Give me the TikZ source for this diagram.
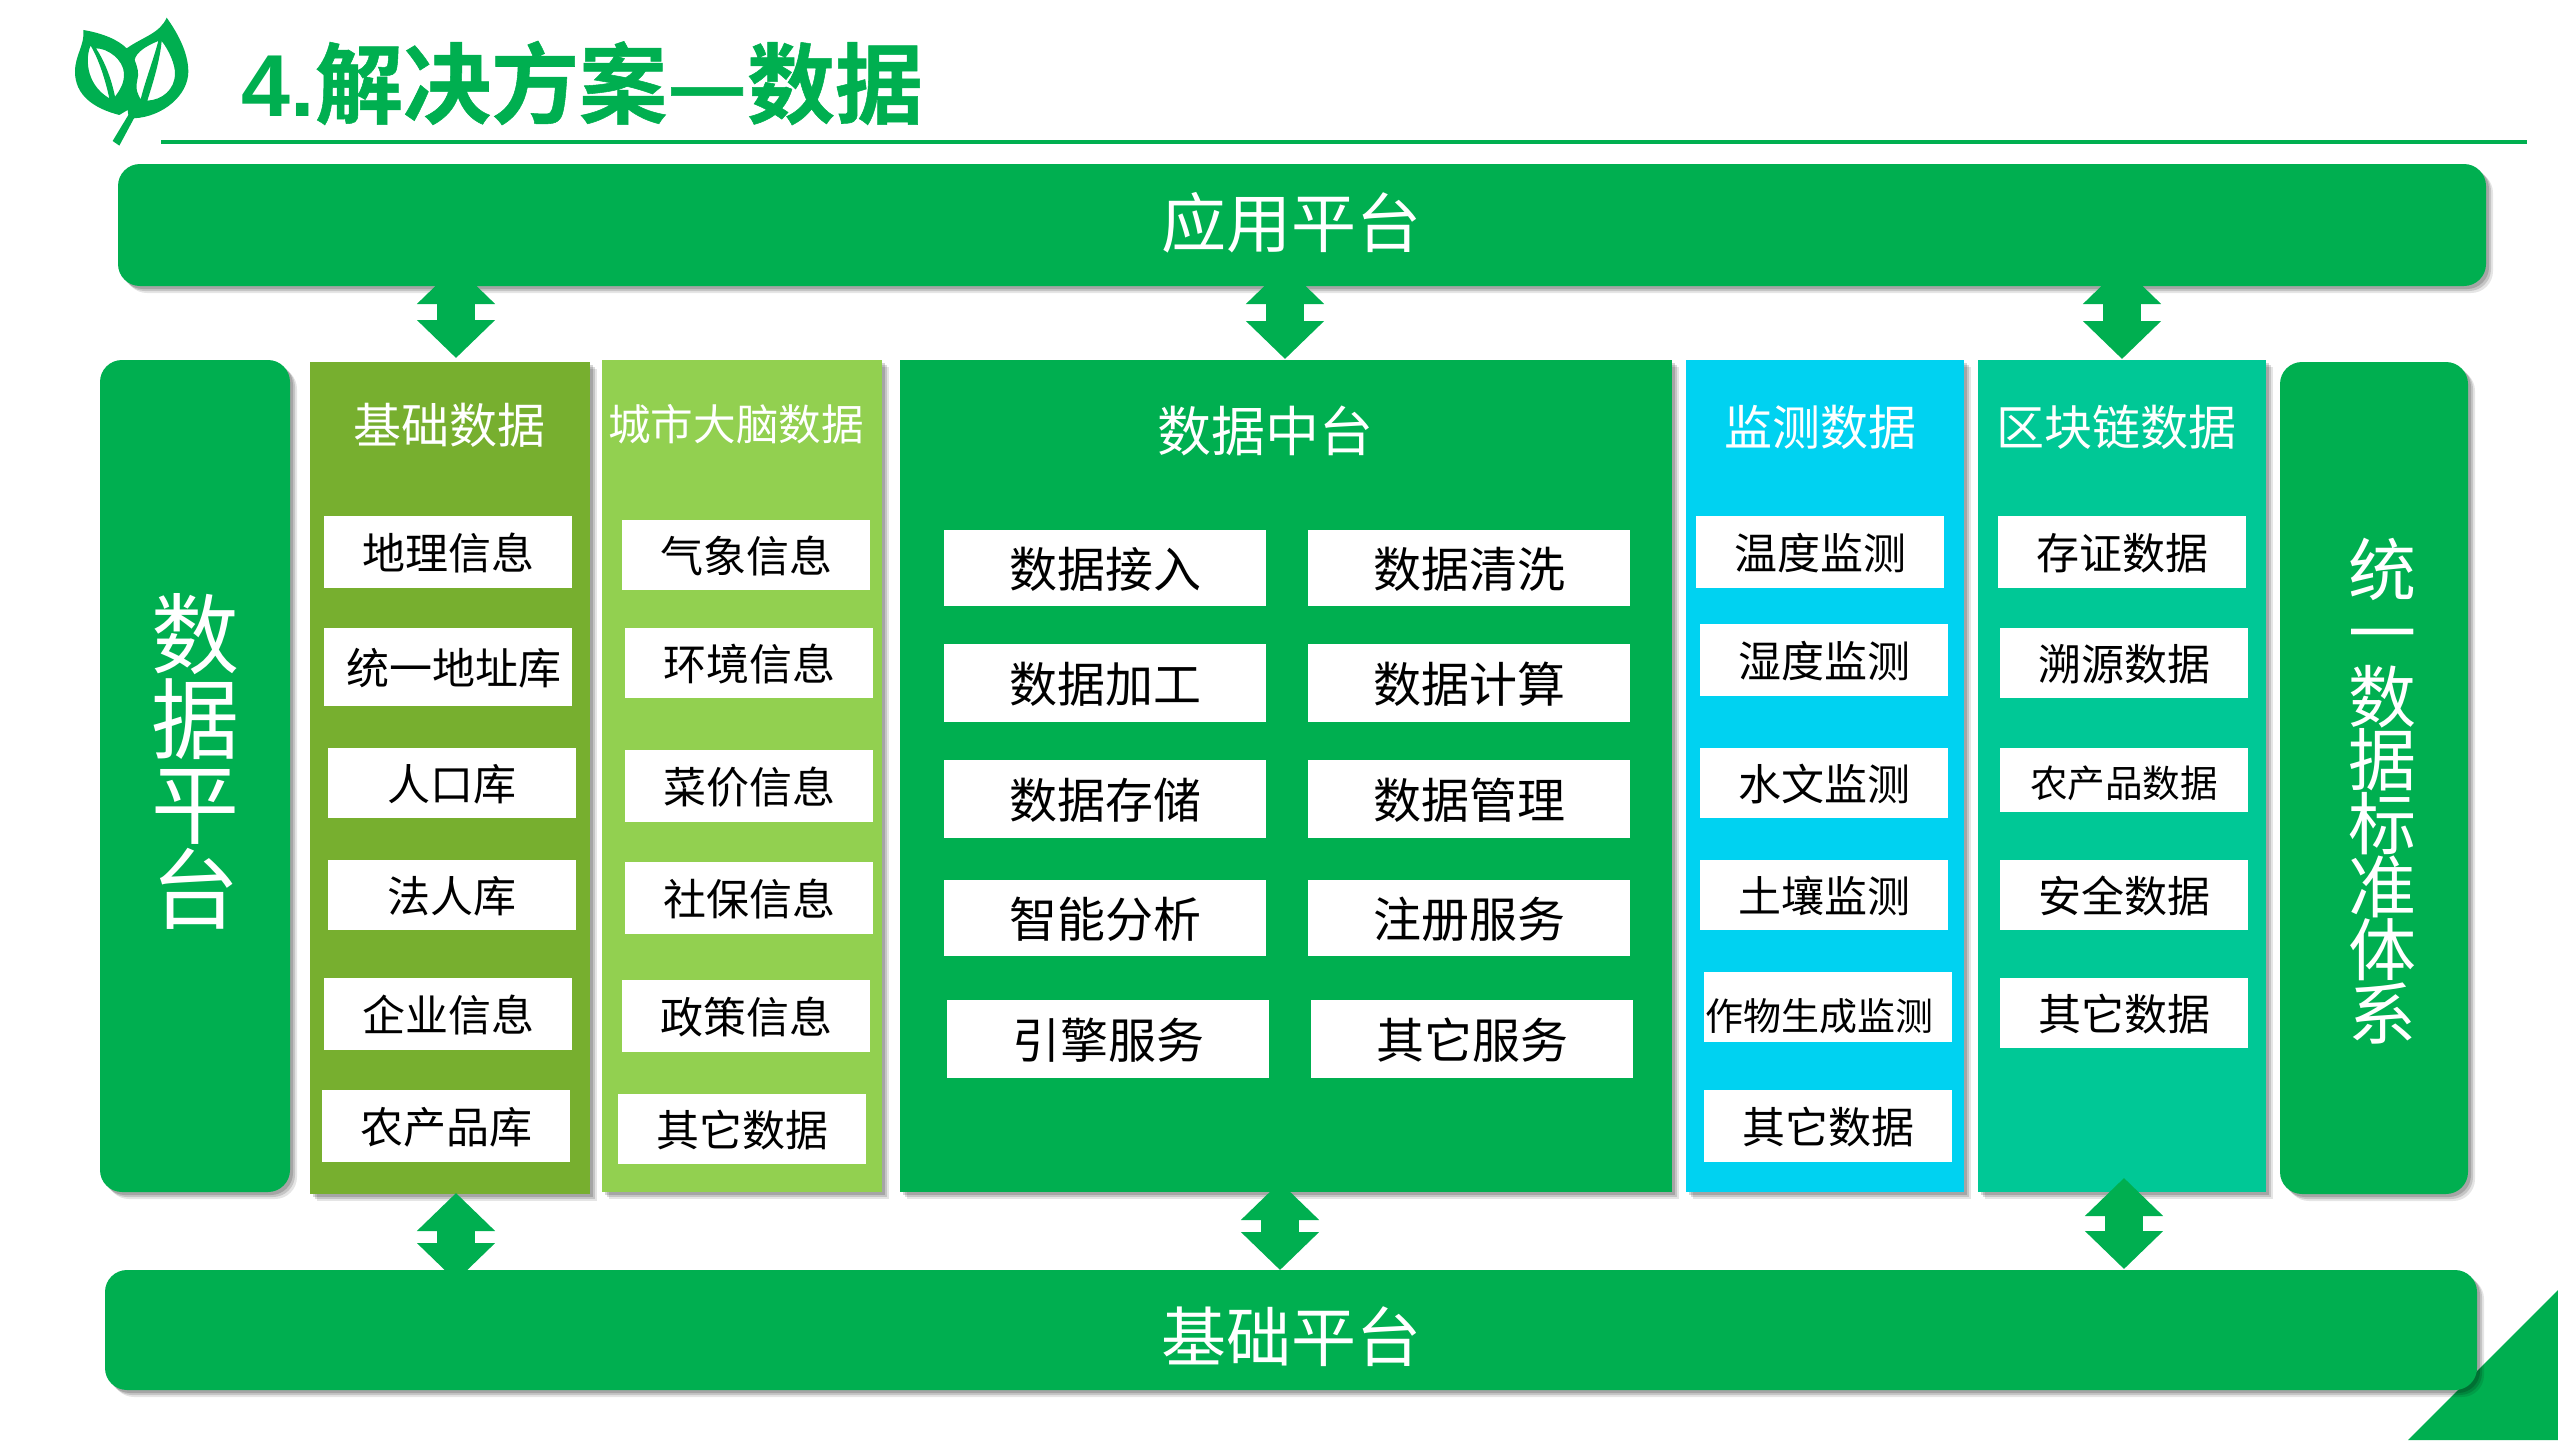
\documentclass[tikz,border=0pt]{standalone}
\usepackage{fontspec}
\setmainfont{Noto Sans CJK SC}
\newfontfamily\titlecjk[FakeBold=0.6]{Noto Sans CJK SC Bold}
\newfontfamily\titlelatin{Liberation Sans Bold}
\usepackage{tikz}
\usetikzlibrary{arrows.meta}
\usetikzlibrary{shadows}
\definecolor{bargreen}{RGB}{0,175,80}
\definecolor{olivegreen}{RGB}{119,175,47}
\definecolor{limegreen}{RGB}{146,208,80}
\definecolor{skycyan}{RGB}{0,210,241}
\definecolor{seagreen}{RGB}{0,200,150}
\tikzset{every picture/.style={line width=0.75pt}}
\tikzset{softshadow/.style={
  drop shadow={shadow xshift=1.5pt,shadow yshift=-1.5pt,fill=black,opacity=0.16},
  drop shadow={shadow xshift=2.5pt,shadow yshift=-2.5pt,fill=black,opacity=0.14},
  drop shadow={shadow xshift=3.5pt,shadow yshift=-3.5pt,fill=black,opacity=0.10}}}
\tikzset{platbar/.style={fill=bargreen,rounded corners=11pt,softshadow,inner sep=0pt}}
\tikzset{bartext/.style={text=white,inner sep=0pt,align=center,font=\fontsize{32.5}{32.5}\selectfont}}
\tikzset{datacol/.style={softshadow,inner sep=0pt}}
\tikzset{colhead/.style={text=white,inner sep=0pt,font=\fontsize{24}{24}\selectfont}}
\tikzset{cellbox/.style={fill=white,text=black,inner sep=0pt,minimum width=124pt,text height=20pt,text depth=2.1pt,font=\fontsize{21.5}{21.5}\selectfont}}
\tikzset{midbox/.style={fill=white,text=black,inner sep=0pt,minimum width=161pt,text height=22pt,text depth=2.76pt,font=\fontsize{24}{24}\selectfont}}
\tikzset{updown/.style={draw=bargreen,line width=19pt,{Triangle[width=38pt,length=19pt,fill=bargreen]}-{Triangle[width=38pt,length=19pt,fill=bargreen]}}}

\begin{document}
\begin{tikzpicture}[x=0.5pt,y=0.5pt,yscale=-1]
\useasboundingbox (0,0) rectangle (2558,1440);

%corner triangle
\fill [bargreen] (2408,1440) -- (2558,1290) -- (2558,1440) -- cycle ;

%leaf mark
\begin{scope}[shift={(60,5)},scale=0.3333]
\fill [bargreen,even odd rule] (70,75) .. controls (130,85) and (175,105) .. (200,130)
  .. controls (250,95) and (300,85) .. (320,38)
  .. controls (350,80) and (385,140) .. (385,200)
  .. controls (385,270) and (310,335) .. (222,340)
  -- (178,422) -- (158,408) -- (205,330) -- (203,315) -- (178,330)
  .. controls (100,310) and (45,270) .. (45,200)
  .. controls (45,150) and (75,120) .. (70,75) -- cycle
  (92,122) .. controls (78,150) and (72,235) .. (148,280) .. controls (135,220) and (115,160) .. (92,122) -- cycle
  (108,130) .. controls (145,130) and (190,165) .. (192,205) .. controls (193,235) and (180,255) .. (165,275) .. controls (155,225) and (135,170) .. (108,130) -- cycle
  (295,108) .. controls (265,120) and (228,140) .. (224,165) .. controls (232,185) and (238,205) .. (232,225) .. controls (225,255) and (235,270) .. (242,283) .. controls (255,230) and (280,165) .. (295,108) -- cycle
  (305,108) .. controls (330,140) and (345,180) .. (345,205) .. controls (345,255) and (305,285) .. (262,287) .. controls (280,230) and (300,165) .. (305,108) -- cycle ;
\end{scope}

% Title
\node [anchor=west,inner sep=0pt,text=bargreen,font=\fontsize{44}{44}\selectfont] (title) at (241,83) {{\titlelatin 4.}{\titlecjk 解决方案—数据}};
\coordinate (ruleL) at (161,142);
\coordinate (ruleR) at (2527,142);
\draw [bargreen,line width=2pt] (ruleL) -- (ruleR) ;

%Platform bars
\node [platbar,minimum width=1184pt,minimum height=61pt] (appbar) at (1302,225) {};
\node [platbar,minimum width=1186pt,minimum height=60pt] (basebar) at (1291,1330) {};
\node [platbar,minimum width=95pt,minimum height=416pt] (dataplat) at (195,776) {};
\node [platbar,minimum width=94pt,minimum height=416pt] (stdplat) at (2374,778) {};
\node [bartext] (apptxt) at (1291,223) {应用平台};
\node [bartext] (basetxt) at (1291,1337) {基础平台};
\node [bartext,font=\fontsize{44}{42.5}\selectfont] (dataplattxt) at (195,761) {数\\据\\平\\台};
\node [bartext,font=\fontsize{34}{31.7}\selectfont] (stdplattxt) at (2382,791) {统\\一\\数\\据\\标\\准\\体\\系};

%Data columns
\node [datacol,fill=olivegreen,minimum width=140pt,minimum height=416pt] (basecol) at (450,778) {};
\node [datacol,fill=limegreen,minimum width=140pt,minimum height=416pt] (citycol) at (742,776) {};
\node [datacol,fill=bargreen,minimum width=386pt,minimum height=416pt] (midcol) at (1286,776) {};
\node [datacol,fill=skycyan,minimum width=139pt,minimum height=416pt] (moncol) at (1825,776) {};
\node [datacol,fill=seagreen,minimum width=144pt,minimum height=416pt] (chaincol) at (2122,776) {};

% Column titles
\node [colhead] (basehd) at (449,425) {基础数据};
\node [colhead,font=\fontsize{21.3}{21.3}\selectfont] (cityhd) at (736,424) {城市大脑数据};
\node [colhead,font=\fontsize{27}{27}\selectfont] (midhd) at (1265,431) {数据中台};
\node [colhead] (monhd) at (1820,427) {监测数据};
\node [colhead] (chainhd) at (2116,427) {区块链数据};

% Base data cells
\node [cellbox,minimum height=36pt] (b1) at (448,552) {地理信息};
\node [cellbox,minimum height=39pt] (b2) at (448,667) {\hspace*{5.7pt}统一地址库};
\node [cellbox,minimum height=35pt] (b3) at (452,783) {人口库};
\node [cellbox,minimum height=35pt] (b4) at (452,895) {法人库};
\node [cellbox,minimum height=36pt] (b5) at (448,1014) {企业信息};
\node [cellbox,minimum height=36pt] (b6) at (446,1126) {农产品库};

% City data cells
\node [cellbox,minimum height=35pt] (c1) at (746,555) {气象信息};
\node [cellbox,minimum height=35pt] (c2) at (749,663) {环境信息};
\node [cellbox,minimum height=36pt] (c3) at (749,786) {菜价信息};
\node [cellbox,minimum height=36pt] (c4) at (749,898) {社保信息};
\node [cellbox,minimum height=36pt] (c5) at (746,1016) {政策信息};
\node [cellbox,minimum height=35pt] (c6) at (742,1129) {其它数据};

% Middle platform cells
\node [midbox,minimum height=38pt] (m1) at (1105,568) {数据接入};
\node [midbox,minimum height=38pt] (m2) at (1469,568) {数据清洗};
\node [midbox,minimum height=39pt] (m3) at (1105,683) {数据加工};
\node [midbox,minimum height=39pt] (m4) at (1469,683) {数据计算};
\node [midbox,minimum height=39pt] (m5) at (1105,799) {数据存储};
\node [midbox,minimum height=39pt] (m6) at (1469,799) {数据管理};
\node [midbox,minimum height=38pt] (m7) at (1105,918) {智能分析};
\node [midbox,minimum height=38pt] (m8) at (1469,918) {注册服务};
\node [midbox,minimum height=39pt] (m9) at (1108,1039) {引擎服务};
\node [midbox,minimum height=39pt] (m10) at (1472,1039) {其它服务};

% Monitoring cells
\node [cellbox,minimum height=36pt] (s1) at (1820,552) {温度监测};
\node [cellbox,minimum height=36pt] (s2) at (1824,660) {湿度监测};
\node [cellbox,minimum height=35pt] (s3) at (1824,783) {水文监测};
\node [cellbox,minimum height=35pt] (s4) at (1824,895) {土壤监测};
\node [cellbox,minimum height=35pt,font=\fontsize{19}{19}\selectfont] (s5) at (1828,1007) {\raisebox{-3pt}{作物生成监测}\hspace*{9pt}};
\node [cellbox,minimum height=36pt] (s6) at (1828,1126) {其它数据};

% Chain cells
\node [cellbox,minimum height=36pt] (k1) at (2122,552) {存证数据};
\node [cellbox,minimum height=35pt] (k2) at (2124,663) {溯源数据};
\node [cellbox,minimum height=32pt,font=\fontsize{18.8}{18.8}\selectfont] (k3) at (2124,780) {农产品数据};
\node [cellbox,minimum height=35pt] (k4) at (2124,895) {安全数据};
\node [cellbox,minimum height=35pt] (k5) at (2124,1013) {其它数据};

%Arrow ends
\coordinate (appL) at (456,266);
\coordinate (basetop) at (456,358);
\coordinate (appM) at (1285,266);
\coordinate (midtop) at (1285,359);
\coordinate (appR) at (2122,266);
\coordinate (chaintop) at (2122,359);
\coordinate (basebot) at (456,1193);
\coordinate (barL) at (456,1281);
\coordinate (midbot) at (1280,1182);
\coordinate (barM) at (1280,1270);
\coordinate (chainbot) at (2124,1178);
\coordinate (barR) at (2124,1269);

\draw [updown] (appL) -- (basetop) ;
\draw [updown] (appM) -- (midtop) ;
\draw [updown] (appR) -- (chaintop) ;
\draw [updown] (basebot) -- (barL) ;
\draw [updown] (midbot) -- (barM) ;
\draw [updown] (chainbot) -- (barR) ;

\end{tikzpicture}
\end{document}
